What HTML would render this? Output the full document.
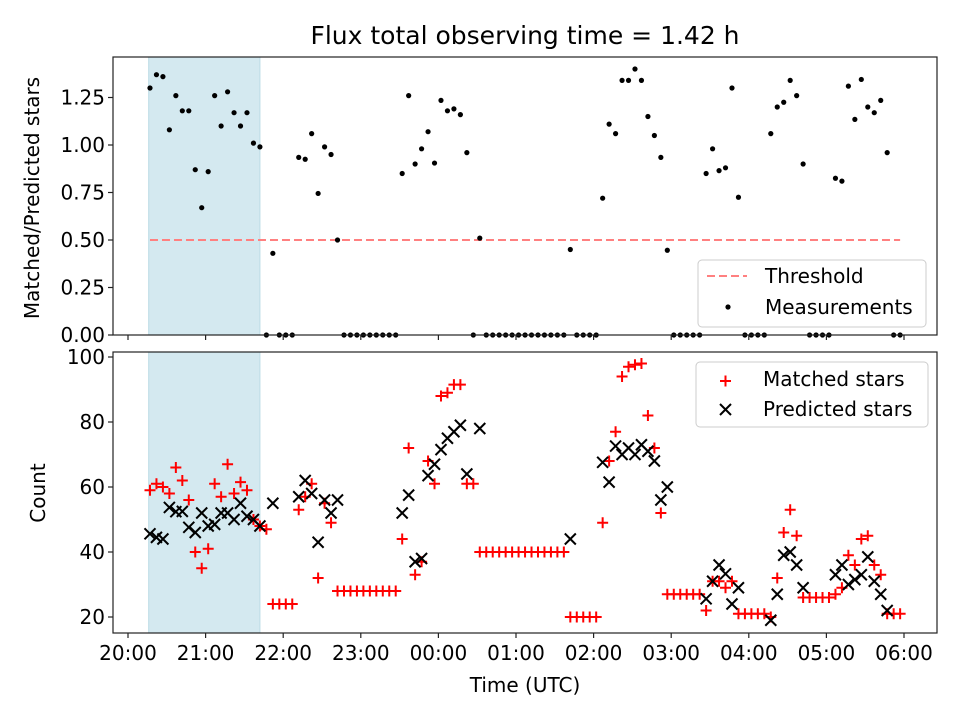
<!DOCTYPE html>
<html><head><meta charset="utf-8"><style>
html,body{margin:0;padding:0;background:#fff;}
svg{display:block;font-family:"DejaVu Sans","Liberation Sans",sans-serif;}
</style></head><body>
<svg id="chart" width="960" height="720" viewBox="0 0 960 720" xmlns="http://www.w3.org/2000/svg">
<text x="525" y="44" font-size="25" text-anchor="middle" fill="#000">Flux total observing time = 1.42 h</text>
<g id="topPanel"></g>
<g id="botPanel"></g>
<text transform="translate(39,198) rotate(-90)" font-size="20" text-anchor="middle">Matched/Predicted stars</text>
<text transform="translate(45,493) rotate(-90)" font-size="20" text-anchor="middle">Count</text>
<text x="525" y="692" font-size="20" text-anchor="middle">Time (UTC)</text>
</svg>
<script>
// minutes after 20:00 UTC
const times = [17,22,27,32,37,42,47,52,57,62,67,72,77,82,87,92,97,102,107,112,117,122,127,132,137,142,147,152,157,162,167,172,177,182,187,192,197,202,207,212,217,222,227,232,237,242,247,252,257,262,267,272,277,282,287,292,297,302,307,312,317,322,327,332,337,342,347,352,357,362,367,372,377,382,387,392,397,402,407,412,417,422,427,432,437,442,447,452,457,462,467,472,477,482,487,492,497,502,507,512,517,522,527,532,537,542,547,552,557,562,567,572,577,582,587,592,597];
const ratio = [1.30,1.37,1.36,1.08,1.26,1.18,1.18,0.87,0.67,0.86,1.26,1.10,1.28,1.17,1.10,1.17,1.01,0.99,0,
0.43,0,0,0,0.935,0.925,1.06,0.745,0.99,0.95,0.50,
0,0,0,0,0,0,0,0,0,
0.85,1.26,0.90,0.98,1.07,0.905,1.235,1.18,1.19,1.16,0.96,0,0.51,
0,0,0,0,0,0,0,0,0,0,0,0,0,
0.45,0,0,0,0,
0.72,1.11,1.06,1.34,1.34,1.40,1.34,1.15,1.05,0.935,0.446,
0,0,0,0,0,
0.85,0.98,0.865,0.88,1.30,0.725,
0,0,0,0,
1.06,1.20,1.225,1.34,1.26,0.90,
0,0,0,0,
0.825,0.81,1.31,1.135,1.345,1.2,1.17,1.235,0.96,
0,0];
const matched = [59,61,60,58,66,62,56,40,35,41,61,57,67,58,61.5,59,50,48,47,
24,24,24,24,53,57,61,32,55,49,28,
28,28,28,28,28,28,28,28,28,
44,72,33,37,68,61,88,89,91.5,91.5,61,61,40,
40,40,40,40,40,40,40,40,40,40,40,40,40,
20,20,20,20,20,
49,68,77,94,97,97.6,98,82,72,52,27,
27,27,27,27,27,
22,31,31,29,31,21,
21,21,21,21,
20,32,46,53,45,26,
26,26,26,26,
27,29,39,36,44,45,36,33,21,
21,21];
const predicted = [45.6,44.5,44,53.7,52.4,52.5,47.6,46,52,48,48.5,52,52,50,55,51,50,48,null,
55,null,null,null,57,62,58,43,56,52,56,
null,null,null,null,null,null,null,null,null,
52,57.5,37,38,63.5,67,71.5,75,77,79,64,null,78,
null,null,null,null,null,null,null,null,null,null,null,null,null,
44,null,null,null,null,
67.6,61.5,72.6,70,72,70,73,71,68,56,60,
null,null,null,null,null,
25.6,31,36,33.3,24,29,
null,null,null,null,
19,27,39,40,36,29,
null,null,null,null,
33,36,30,31.5,33,38.5,31,27,22,
null,null];
const xTickMinutes = [0,60,120,180,240,300,360,420,480,540,600];
const xTickLabels = ["20:00","21:00","22:00","23:00","00:00","01:00","02:00","03:00","04:00","05:00","06:00"];
const ratioTicks = [0,0.25,0.5,0.75,1.0,1.25];
const ratioTickLabels = ["0.00","0.25","0.50","0.75","1.00","1.25"];
const countTicks = [20,40,60,80,100];
const threshold = [0.5];
const thresholdRange = [17,597];
const shadeRange = [16,102];

const NS="http://www.w3.org/2000/svg";
const L=113,R=937,TT=57,TB=335,BT=352,BB=633;
function xs(m){return 128+77.6*m/60;}
function yr(v){return 335-190*v;}
function yc(c){return 617-3.25*(c-20);}
function mk(tag,attrs,parent){const e=document.createElementNS(NS,tag);for(const k in attrs)e.setAttribute(k,attrs[k]);parent.appendChild(e);return e;}
const topG=document.getElementById('topPanel'), botG=document.getElementById('botPanel');

[[topG,TT,TB],[botG,BT,BB]].forEach(([g,a,b],i)=>{
  const r=mk('rect',{x:xs(shadeRange[0]),y:a,width:xs(shadeRange[1])-xs(shadeRange[0]),height:b-a,fill:'#d4e9f0',stroke:'#bcdbe6','stroke-width':1},g);
  
  
});

const th=mk('line',{x1:xs(thresholdRange[0]),x2:xs(thresholdRange[1]),y1:yr(threshold[0]),y2:yr(threshold[0]),stroke:'#ff8080','stroke-width':2,'stroke-dasharray':'8,4'},topG);



times.forEach((t,i)=>{
  const c=mk('circle',{cx:xs(t),cy:yr(ratio[i]),r:2.6,fill:'#000'},topG);
  
  
});

times.forEach((t,i)=>{
  const x=xs(t),y=yc(matched[i]);
  const p=mk('path',{d:`M${x-5.5},${y}H${x+5.5}M${x},${y-5.5}V${y+5.5}`,stroke:'#ff0000','stroke-width':2,fill:'none'},botG);
  
  
});
times.forEach((t,i)=>{
  if(predicted[i]===null)return;
  const x=xs(t),y=yc(predicted[i]),s=5.5;
  const p=mk('path',{d:`M${x-s},${y-s}L${x+s},${y+s}M${x-s},${y+s}L${x+s},${y-s}`,stroke:'#000','stroke-width':2,fill:'none'},botG);
  
  
});

[[topG,TT,TB],[botG,BT,BB]].forEach(([g,a,b],i)=>{
  const f=mk('rect',{x:L,y:a,width:R-L,height:b-a,fill:'none',stroke:'#222','stroke-width':1.2},g);
  
  
  xTickMinutes.forEach((m,j)=>{
    const tk=mk('line',{x1:xs(m),x2:xs(m),y1:b,y2:b+5,stroke:'#222','stroke-width':1.2},g);
    
    
    if(i===1){
      const tx=mk('text',{x:xs(m),y:b+27,'font-size':20,'text-anchor':'middle'},g);
      tx.textContent=xTickLabels[j];
      
      
    }
  });
});
ratioTicks.forEach((v,j)=>{
  const tk=mk('line',{x1:L-5,x2:L,y1:yr(v),y2:yr(v),stroke:'#222','stroke-width':1.2},topG);
  
  
  const tx=mk('text',{x:L-8,y:yr(v)+7,'font-size':20,'text-anchor':'end'},topG);
  tx.textContent=ratioTickLabels[j];
  
  
});
countTicks.forEach(v=>{
  const tk=mk('line',{x1:L-5,x2:L,y1:yc(v),y2:yc(v),stroke:'#222','stroke-width':1.2},botG);
  
  
  const tx=mk('text',{x:L-8,y:yc(v)+7,'font-size':20,'text-anchor':'end'},botG);
  tx.textContent=String(v);
  
  
});

const lg1=mk('g',{},topG);


mk('rect',{x:698,y:260,width:228,height:67,rx:4,fill:'#fff','fill-opacity':0.8,stroke:'#ccc'},lg1);
mk('line',{x1:707,x2:747,y1:276,y2:276,stroke:'#ff8080','stroke-width':2,'stroke-dasharray':'8,4'},lg1);
let t1=mk('text',{x:765,y:283,'font-size':20},lg1);t1.textContent='Threshold';


mk('circle',{cx:728,cy:307,r:2.6,fill:'#000'},lg1);
let t2=mk('text',{x:765,y:314,'font-size':20},lg1);t2.textContent='Measurements';



const lg2=mk('g',{},botG);


mk('rect',{x:696,y:362,width:232,height:65,rx:4,fill:'#fff','fill-opacity':0.8,stroke:'#ccc'},lg2);
mk('path',{d:'M720,381H731M725.5,375.5V386.5',stroke:'#ff0000','stroke-width':2},lg2);
let t3=mk('text',{x:763,y:386,'font-size':20},lg2);t3.textContent='Matched stars';


mk('path',{d:'M720,404L731,415M720,415L731,404',stroke:'#000','stroke-width':2},lg2);
let t4=mk('text',{x:763,y:416,'font-size':20},lg2);t4.textContent='Predicted stars';


</script>
</body></html>
